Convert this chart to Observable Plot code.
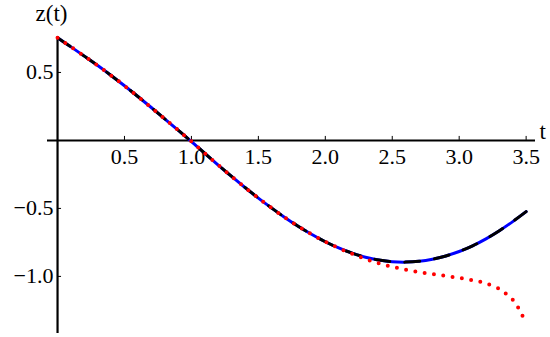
<!DOCTYPE html>
<html>
<head>
<meta charset="utf-8">
<script src="https://cdn.jsdelivr.net/npm/d3@7"></script>
<script src="https://cdn.jsdelivr.net/npm/@observablehq/plot@0.6"></script>
<style>
  html, body { margin: 0; padding: 0; background: #fff; }
  #chart svg { display: block; }
</style>
</head>
<body>
<div id="chart"></div>
<script>
// Main solution z(t) (solid blue / dashed black)
const tValues = [0, 0.1, 0.2, 0.3, 0.4, 0.5, 0.6, 0.7, 0.8, 0.9, 1.0, 1.1, 1.2, 1.3, 1.4, 1.5, 1.6, 1.7, 1.8, 1.9, 2.0, 2.1, 2.2, 2.3, 2.4, 2.5, 2.6, 2.7, 2.8, 2.9, 3.0, 3.1, 3.2, 3.3, 3.4, 3.5];
const zExact = [0.755, 0.688, 0.620, 0.551, 0.478, 0.402, 0.323, 0.242, 0.159, 0.076, -0.008, -0.095, -0.181, -0.265, -0.346, -0.424, -0.498, -0.568, -0.633, -0.692, -0.745, -0.791, -0.829, -0.859, -0.880, -0.892, -0.895, -0.889, -0.874, -0.850, -0.817, -0.775, -0.724, -0.664, -0.597, -0.524];
// Approximation (red dotted)
const tApprox = [0, 0.1, 0.2, 0.3, 0.4, 0.5, 0.6, 0.7, 0.8, 0.9, 1.0, 1.1, 1.2, 1.3, 1.4, 1.5, 1.6, 1.7, 1.8, 1.9, 2.0, 2.1, 2.2, 2.3, 2.4, 2.5, 2.6, 2.7, 2.8, 2.9, 3.0, 3.1, 3.2, 3.3, 3.35, 3.4, 3.45, 3.5];
const zApprox = [0.755, 0.688, 0.620, 0.551, 0.478, 0.402, 0.323, 0.242, 0.159, 0.076, -0.008, -0.095, -0.181, -0.265, -0.346, -0.424, -0.498, -0.568, -0.633, -0.692, -0.745, -0.792, -0.833, -0.872, -0.904, -0.929, -0.951, -0.968, -0.983, -0.997, -1.011, -1.028, -1.052, -1.093, -1.128, -1.172, -1.245, -1.35];

const xTicks = [0.5, 1.0, 1.5, 2.0, 2.5, 3.0, 3.5];
const xTickLabels = ["0.5", "1.0", "1.5", "2.0", "2.5", "3.0", "3.5"];
const yTicks = [0.5, -0.5, -1.0];
const yTickLabels = ["0.5", "\u22120.5", "\u22121.0"];

const exact = tValues.map((t, i) => ({t, z: zExact[i]}));
const approx = tApprox.map((t, i) => ({t, z: zApprox[i]}));
const xt = xTicks.map((v, i) => ({v, label: xTickLabels[i]}));
const yt = yTicks.map((v, i) => ({v, label: yTickLabels[i]}));

const font = "'Liberation Serif', 'Times New Roman', 'DejaVu Serif', serif";

const chart = Plot.plot({
  width: 550,
  height: 337,
  marginLeft: 47,
  marginRight: 15,
  marginTop: 37,
  marginBottom: 4,
  style: {background: "#fff"},
  x: {domain: [-0.075, 3.57], axis: null},
  y: {domain: [-1.42, 0.757], axis: null},
  marks: [
    Plot.ruleY([0], {stroke: "black", strokeWidth: 2}),
    Plot.ruleX([0], {stroke: "black", strokeWidth: 2.2}),
    Plot.ruleX(xt, {x: "v", y1: 0, y2: 0, insetTop: -4, stroke: "black", strokeWidth: 1}),
    Plot.ruleY(yt, {y: "v", x1: 0, x2: 0, insetRight: -4, stroke: "black", strokeWidth: 1}),
    Plot.text(xt, {x: "v", y: 0, text: "label", dy: 17, fontSize: 22, fontFamily: font, textAnchor: "middle", lineAnchor: "middle", fill: "black"}),
    Plot.text(yt, {x: 0, y: "v", text: "label", dx: -4, fontSize: 22, fontFamily: font, textAnchor: "end", lineAnchor: "middle", fill: "black"}),
    Plot.text(["z(t)"], {frameAnchor: "top-left", dx: 4, dy: -24, fontSize: 23, fontFamily: font, textAnchor: "middle", lineAnchor: "middle", fill: "black"}),
    Plot.text(["t"], {x: 3.57, y: 0, dx: 4, dy: -9, fontSize: 23, fontFamily: font, textAnchor: "start", lineAnchor: "middle", fill: "black"}),
    Plot.line(exact, {x: "t", y: "z", stroke: "#0000ff", strokeWidth: 3, curve: "catmull-rom"}),
    Plot.line(exact, {x: "t", y: "z", stroke: "black", strokeWidth: 3, strokeDasharray: "15,15", curve: "catmull-rom"}),
    Plot.line(approx, {x: "t", y: "z", stroke: "#ff0000", strokeWidth: 4, strokeDasharray: "0,9.4", strokeLinecap: "round", curve: "catmull-rom"})
  ]
});
document.getElementById("chart").appendChild(chart);
</script>
</body>
</html>
